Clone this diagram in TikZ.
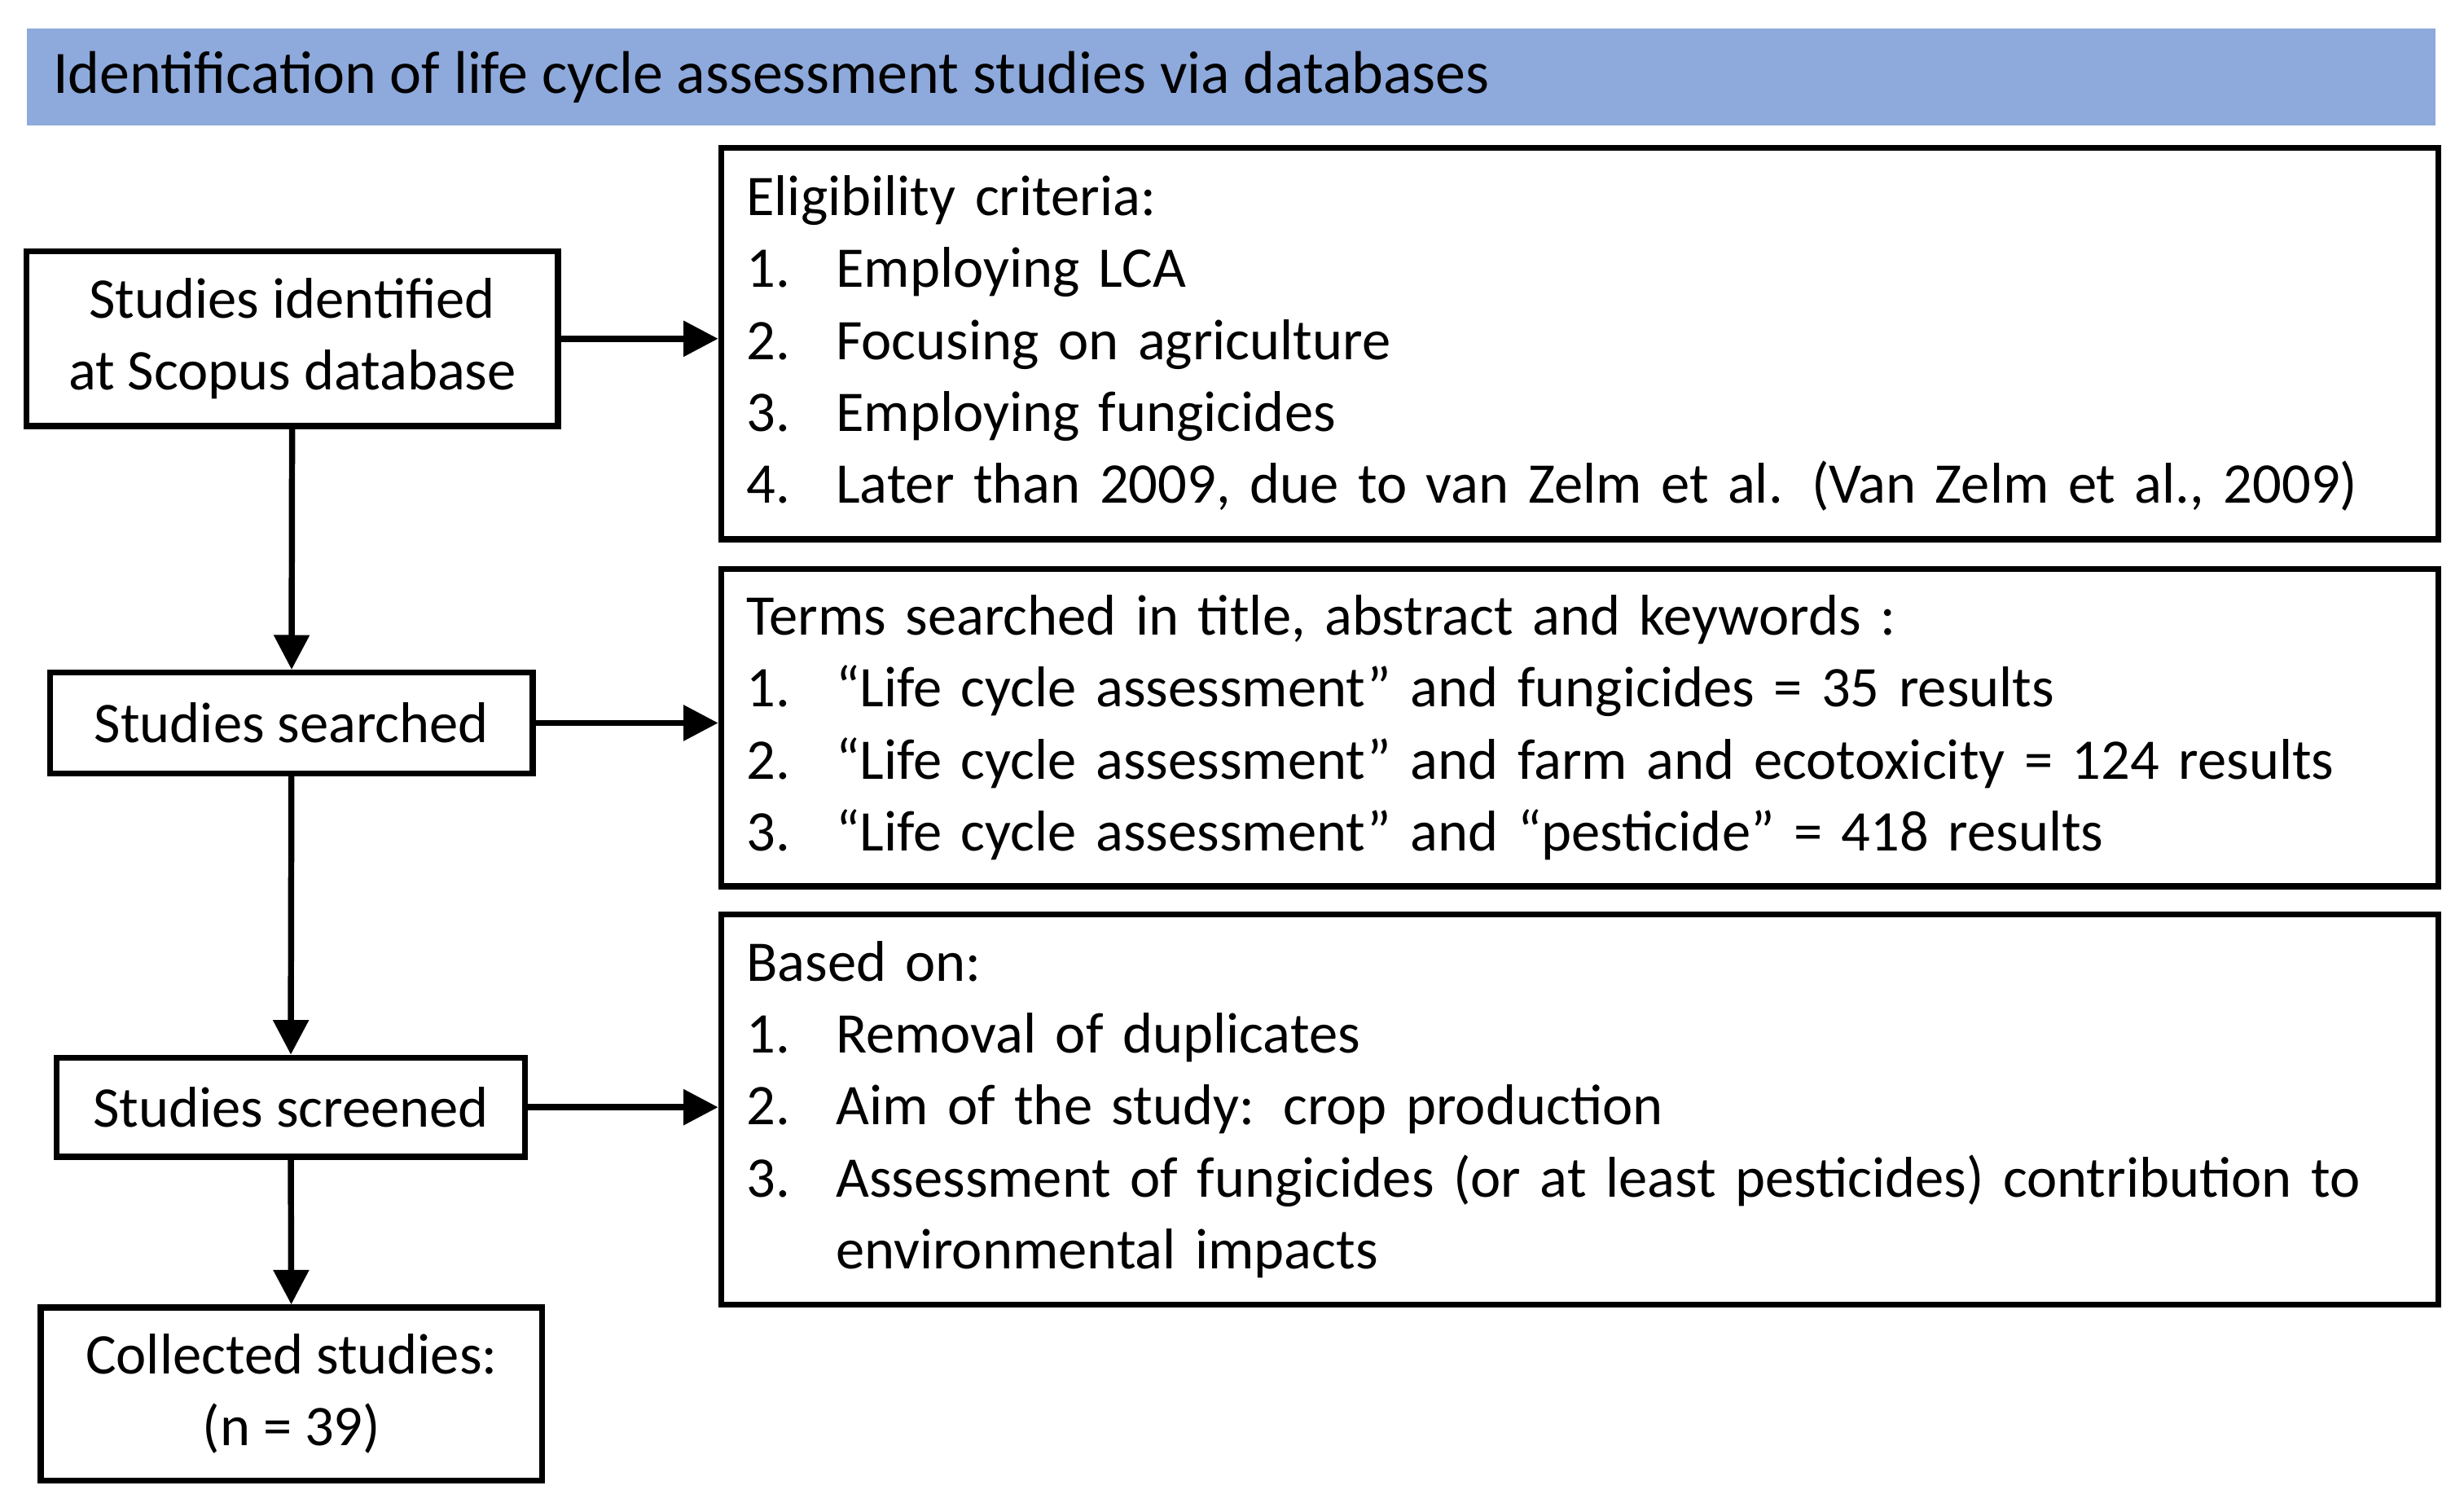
\documentclass[tikz,border=0pt]{standalone}
\usepackage{fontspec}
\setmainfont{Carlito}
\usetikzlibrary{arrows.meta}
\begin{document}
\begin{tikzpicture}[x=0.01cm,y=-0.01cm,
  every node/.style={font=\fontsize{10.4}{13}\selectfont},
  bx/.style={draw,line width=1.1pt,align=center,inner sep=0pt},
  big/.style={draw,line width=1.1pt,anchor=north west,align=left,text width=10.6cm,inner xsep=1.6mm,inner ysep=1.2mm,minimum width=10.9cm},
  arr/.style={line width=1.1pt,-{Triangle[length=2.2mm,width=2.2mm]}}]
\newcommand{\itm}[1]{\makebox[5.7mm][l]{#1}}
\useasboundingbox (0,0) rectangle (1568,956);
\fill[fill={rgb,255:red,142;green,169;blue,219}] (17,18) rectangle (1550,80);
\node[anchor=west,inner sep=0pt,font=\fontsize{10.9}{14}\selectfont] (title) at (33,49) {Identification of life cycle assessment studies via databases};
\node[bx,minimum width=3.38cm,minimum height=1.11cm] (s1) at (186,215.5) {Studies identified\\at Scopus database};
\node[bx,minimum width=3.07cm,minimum height=0.64cm] (s2) at (185.5,460) {Studies searched};
\node[bx,minimum width=2.98cm,minimum height=0.63cm] (s3) at (185,704.5) {Studies screened};
\node[bx,minimum width=3.19cm,minimum height=1.10cm] (s4) at (185.5,887) {Collected studies:\\(n = 39)};
\node[big,minimum height=2.49cm] (e) at (457,92) {Eligibility criteria:\\
\itm{1.}Employing LCA\\
\itm{2.}Focusing on agriculture\\
\itm{3.}Employing fungicides\\
\itm{4.}Later than 2009, due to van Zelm et al. (Van Zelm et al., 2009)};
\node[big,minimum height=2.02cm] (t) at (457,360) {Terms searched in title, abstract and keywords :\\
\itm{1.}“Life cycle assessment” and fungicides = 35 results\\
\itm{2.}“Life cycle assessment” and farm and ecotoxicity = 124 results\\
\itm{3.}“Life cycle assessment” and “pesticide” = 418 results};
\node[big,minimum height=2.48cm] (b) at (457,580) {Based on:\\
\itm{1.}Removal of duplicates\\
\itm{2.}Aim of the study: crop production\\
\itm{3.}Assessment of fungicides (or at least pesticides) contribution to\\
\itm{}environmental impacts};
\draw[arr] (s1) -- (s2);
\draw[arr] (s2) -- (s3);
\draw[arr] (s3) -- (s4);
\draw[arr] (s1.east) -- (s1.east -| e.west);
\draw[arr] (s2.east) -- (s2.east -| t.west);
\draw[arr] (s3.east) -- (s3.east -| b.west);
\end{tikzpicture}
\end{document}
